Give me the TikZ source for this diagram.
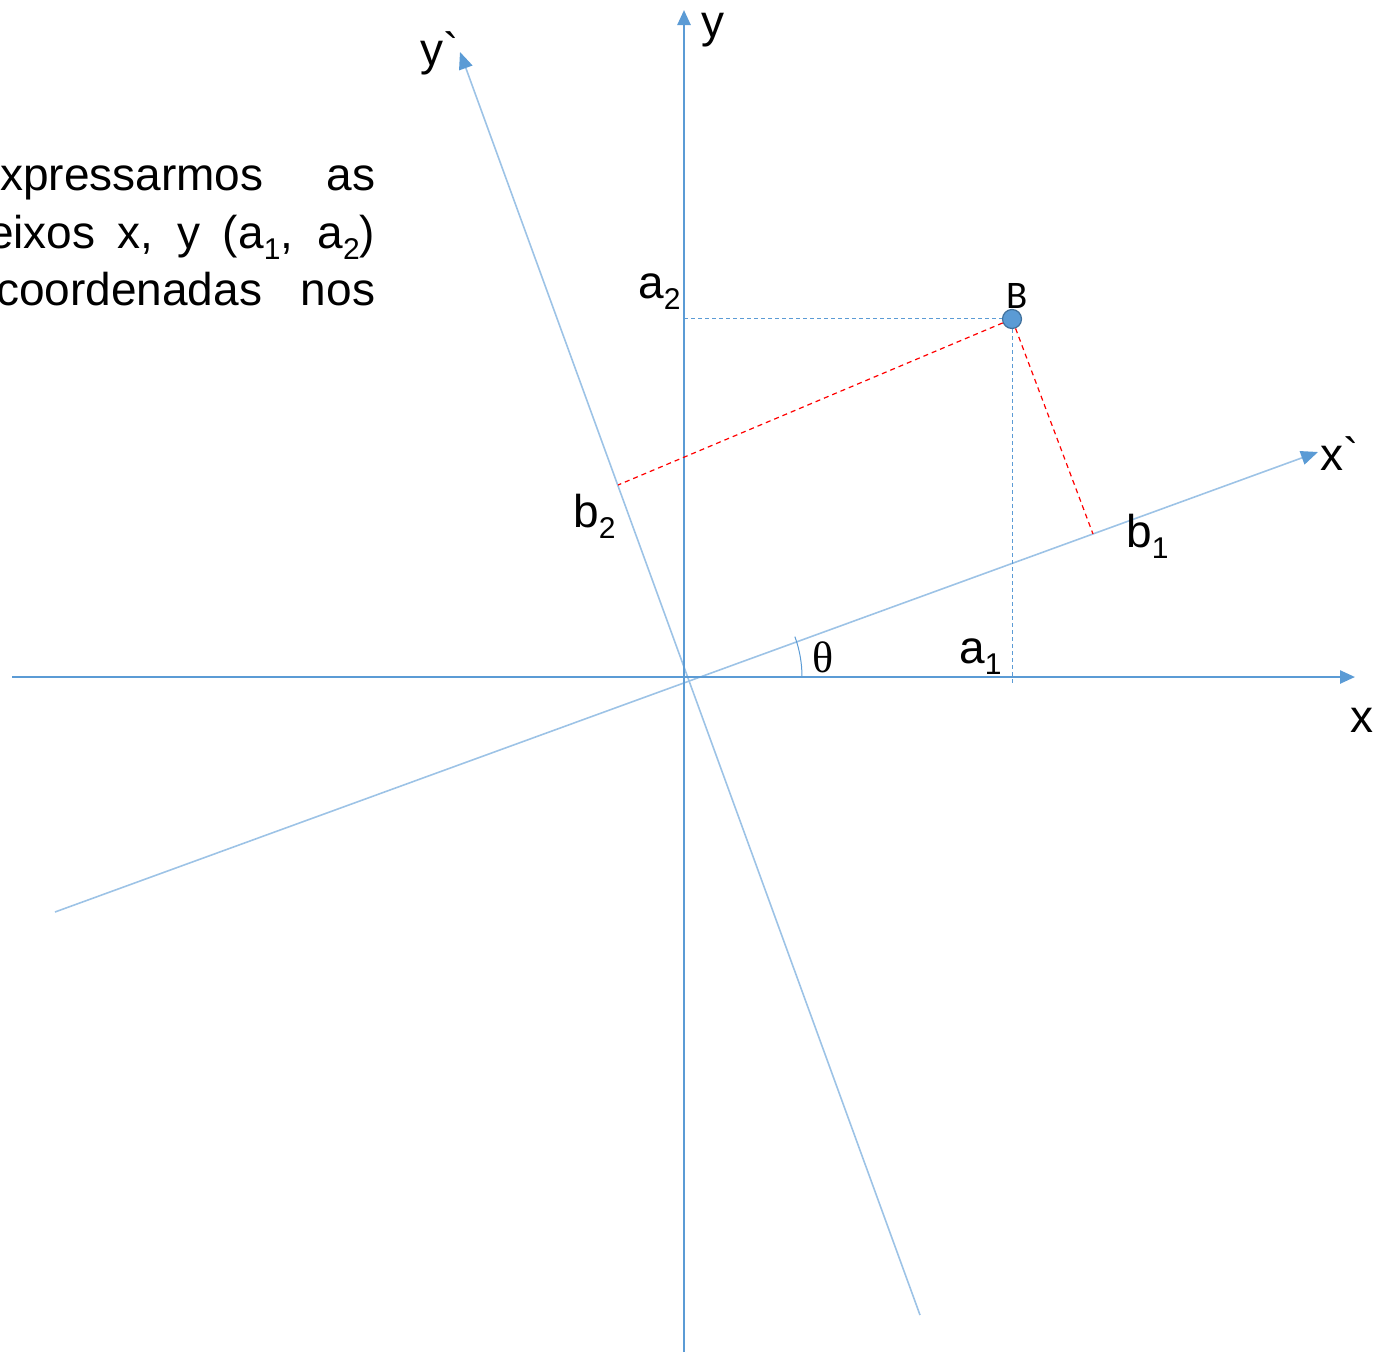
\documentclass[tikz,border=0pt]{standalone}
\usepackage{fontspec}
\newfontfamily\arialfont{Liberation Sans}
\newfontfamily\calfont{Carlito}
\newfontfamily\timesfont{Liberation Serif}
\usetikzlibrary{arrows.meta}
\definecolor{axblue}{RGB}{91,155,213}
\definecolor{rotblue}{RGB}{157,195,230}
\definecolor{ptedge}{RGB}{65,113,156}
\newcommand{\sbx}[1]{\raisebox{-11pt}{\fontsize{30}{30}\selectfont #1}}
\tikzset{
  axis/.style={draw=axblue, line width=2.5pt, -{Triangle[length=15pt,width=13pt]}},
  rotaxis/.style={draw=rotblue, line width=1.6pt, -{Triangle[length=17pt,width=14pt,color=axblue]}},
  bdash/.style={draw=axblue, line width=1pt, dash pattern=on 4pt off 3pt},
  rdash/.style={draw=red, line width=1.2pt, dash pattern=on 5pt off 4pt},
  lbl/.style={font=\arialfont\fontsize{46}{46}\selectfont, inner sep=0pt, anchor=base west},
  txt/.style={font=\arialfont\fontsize{46}{46}\selectfont, inner sep=0pt, anchor=base west},
}
\begin{document}
\begin{tikzpicture}[x=1pt,y=-1pt]
\useasboundingbox (0,0) rectangle (1378,1352);
% coordinates
\coordinate (O) at (684,677);
\coordinate (xl) at (12,677);
\coordinate (xr) at (1355,677);
\coordinate (yb) at (684,1352);
\coordinate (yt) at (684,10);
\coordinate (xpl) at (55,912);
\coordinate (xpr) at (1318,452);
\coordinate (ypb) at (920,1315);
\coordinate (ypt) at (460,52);
\coordinate (fa2) at (684,318);
\coordinate (fa1) at (1013,683);
\coordinate (fb2) at (618,485);
\coordinate (fb1) at (1093,534);
% text block
\node[txt] (t1) at (0,190) {\makebox[375pt][s]{xpressarmos as}};
\node[txt] (t2) at (-12,248) {\makebox[387pt][s]{eixos x, y (a\sbx{1}, a\sbx{2})}};
\node[txt] (t3) at (-4,305) {\makebox[379pt][s]{coordenadas nos}};
% axes
\draw[rotaxis] (xpl) -- (xpr);
\draw[rotaxis] (ypb) -- (ypt);
\draw[axis] (xl) -- (xr);
\draw[axis] (yb) -- (yt);
% point B
\node[circle, fill=axblue, draw=ptedge, line width=1.2pt, minimum size=19pt, inner sep=0pt] (B) at (1012,319) {};
\draw[bdash] (fa2) -- (fa2 -| B.west);
\draw[bdash] (B.south) -- (B.south |- fa1);
\draw[rdash] (B) -- (fb2);
\draw[rdash] (B) -- (fb1);
% angle arc
\draw[axblue, line width=1pt] (802,677) arc[start angle=0, end angle=-20, radius=118];
% labels
\node[lbl] (ly) at (701,37) {y};
\node[lbl] (lyp) at (420,65) {y`};
\node[lbl] (lxp) at (1320,470) {x`};
\node[lbl] (lx) at (1350,732) {x};
\node[lbl] (la2) at (638,298) {a\sbx{2}};
\node[lbl] (la1) at (959,663) {a\sbx{1}};
\node[lbl] (lb2) at (573,527) {b\sbx{2}};
\node[lbl] (lb1) at (1126,547) {b\sbx{1}};
\node[inner sep=0pt, anchor=base west, font=\calfont\fontsize{39}{39}\selectfont] (lB) at (1006,308) {B};
\node[inner sep=0pt, anchor=base west, font=\timesfont\fontsize{44}{44}\selectfont] (lth) at (812,672) {θ};
\end{tikzpicture}
\end{document}
